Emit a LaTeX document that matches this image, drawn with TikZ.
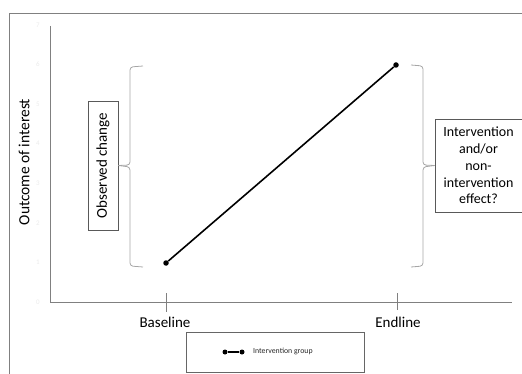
\documentclass[tikz,border=0pt]{standalone}
\usepackage{fontspec}
\setmainfont{Carlito}
\begin{document}
\begin{tikzpicture}[x=1pt,y=-1pt,
  frameline/.style={draw=black!50,line width=0.9pt},
  axisline/.style={draw=black!50,line width=1pt},
  braceline/.style={draw=black!35,line width=0.8pt,rounded corners=3pt},
  labelbox/.style={draw=black!65,line width=0.8pt,fill=white,inner sep=0pt,align=center},
  dot/.style={circle,fill=black,inner sep=0pt,minimum size=5.5pt},
  ticklab/.style={text=black!8,font=\fontsize{7}{8}\selectfont},
  axlab/.style={font=\fontsize{15}{17}\selectfont}]
\useasboundingbox (0,0) rectangle (522,374);
% outer frame
\draw[frameline] (9,374) -- (9,13) -- (522,13);
% axes
\coordinate (O) at (50,302);
\coordinate (ytop) at (50,26);
\coordinate (xend) at (512,302);
\draw[axisline] (ytop) -- (O) -- (xend);
% faint value labels
\foreach \v in {0,...,7}
  \node[ticklab] (t\v) at (38,{302-39.6*\v}) {\v};
% x ticks and labels
\draw[axisline,line width=0.7pt] (166,293) -- (166,312);
\draw[axisline,line width=0.7pt] (397,293) -- (397,310);
\node[axlab] (base) at (165,322) {Baseline};
\node[axlab] (end) at (398,322) {Endline};
% y label
\node[axlab,rotate=90,font=\fontsize{15.5}{17}\selectfont] (ylab) at (24,162) {Outcome of interest};
% data
\node[dot] (pb) at (166,263) {};
\node[dot] (pe) at (396,65) {};
\draw[line width=1.6pt] (pb) -- (pe);
% left brace and box
\node[labelbox,minimum width=30pt,minimum height=129pt] (obs) at (103,165.5) {};
\node[rotate=90,font=\fontsize{15}{17}\selectfont] (obstext) at (obs.center) {Observed change};
\draw[braceline] (143,66) -- (130,67) -- (130,165) -- (obs.east);
\draw[braceline] (obs.east) -- (130,167) -- (130,266) -- (143,267);
% right brace and box
\node[labelbox,minimum width=87pt,minimum height=93pt,font=\fontsize{14}{16.8}\selectfont] (eff) at (478.5,165.5)
  {Intervention\\and/or\\non-\\intervention\\effect?};
\draw[braceline] (411,65) -- (423,66) -- (423,165) -- (eff.west);
\draw[braceline] (eff.west) -- (423,167) -- (423,266) -- (411,267);
% legend
\node[draw=black!60,line width=0.8pt,minimum width=178pt,minimum height=40pt,inner sep=0pt] (leg) at (275,352) {};
\node[dot,minimum size=5pt] (la) at (225,352) {};
\node[dot,minimum size=5pt] (lb) at (242,352) {};
\draw[line width=1.6pt] (la) -- (lb);
\node[anchor=west,font=\fontsize{7.8}{9}\selectfont,text=black!85,inner sep=0pt] (legtext) at (253,351.5) {Intervention group};
\end{tikzpicture}
\end{document}
